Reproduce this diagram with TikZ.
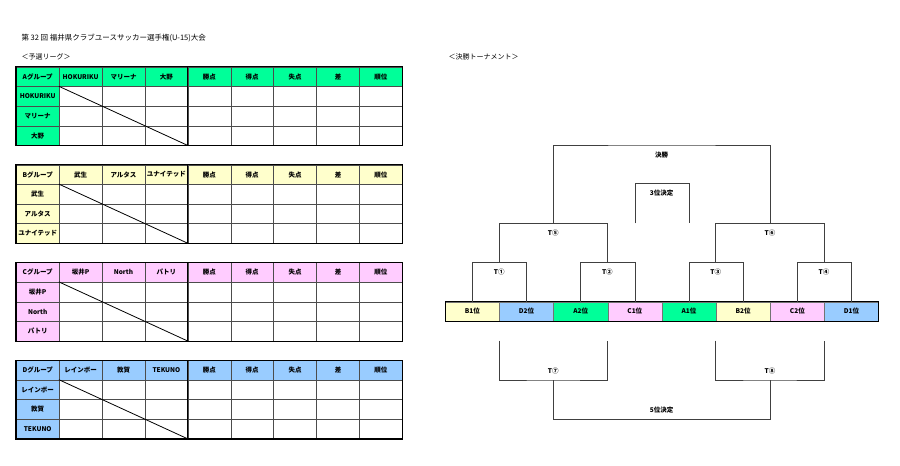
\documentclass[tikz,border=0pt]{standalone}
\usepackage{fontspec}
\setmainfont{Noto Sans CJK JP}
\definecolor{grpA}{HTML}{00FF99}
\definecolor{grpB}{HTML}{FFFFCC}
\definecolor{grpC}{HTML}{FFCCFF}
\definecolor{grpD}{HTML}{99CCFF}
\begin{document}
\begin{tikzpicture}[x=1pt,y=-1pt,
		every node/.style={font=\fontsize{7}{8}\selectfont},
		cell/.style={draw=black!70, line width=0.5pt, minimum width=42.9pt, minimum height=19.6pt, inner sep=0pt, anchor=north west, font=\bfseries\fontsize{6.5}{7}\selectfont},
		frame/.style={line width=1.2pt},
		place/.style={draw=black!55, line width=0.5pt, minimum width=54.17pt, minimum height=19pt, inner sep=0pt, anchor=north west, font=\bfseries\fontsize{6.5}{7}\selectfont},
		line/.style={draw=black!75, line width=0.7pt},
		tag/.style={font=\bfseries\fontsize{6.5}{7}\selectfont}
	]
	\useasboundingbox (0,0) rectangle (900,466);
	\node[anchor=west, font=\fontsize{7.5}{8}\selectfont] (title) at (18,38) {第 32 回 福井県クラブユースサッカー選手権(U-15)大会};
	\node[anchor=west] (league) at (18,56.7) {＜予選リーグ＞};
	\node[anchor=west] (cup) at (445,56.7) {＜決勝トーナメント＞};
	% group tables
	\foreach \g/\ty/\clubA/\clubB/\clubC in {A/66.7/HOKURIKU/マリーナ/大野, B/164.5/武生/アルタス/ユナイテッド, C/262.3/坂井P/North/パトリ, D/360.1/レインボー/敦賀/TEKUNO}{
		\foreach \txt [count=\i from 0] in {{\g}グループ,\clubA,\clubB,\clubC,勝点,得点,失点,差,順位}
			\node[cell, fill=grp\g] (\g-0-\i) at ({16+42.9*\i},\ty) {\txt};
		\foreach \club [count=\r] in {\clubA,\clubB,\clubC}{
			\node[cell, fill=grp\g] (\g-\r-0) at (16,{\ty+19.6*\r}) {\club};
			\foreach \i in {1,...,8}
				\node[cell] (\g-\r-\i) at ({16+42.9*\i},{\ty+19.6*\r}) {};
		}
		\draw[frame] (\g-0-0.north west) rectangle (\g-3-8.south east);
		\draw[frame] (\g-0-4.north west) -- (\g-3-4.south west);
		\draw[line width=0.8pt] (\g-1-1.north west) -- (\g-3-3.south east);
	}
	% tournament
	\foreach \txt/\g [count=\i] in {B1位/B, D2位/D, A2位/A, C1位/C, A1位/A, B2位/B, C2位/C, D1位/D}
		\node[place, fill=grp\g] (p\i) at ({445+54.17*(\i-1)},301.7) {\txt};
	\draw[line width=1pt] (p1.north west) rectangle (p8.south east);
	\coordinate (t1) at (499.2,262.3);
	\coordinate (t2) at (607.4,262.3);
	\coordinate (t3) at (715.7,262.3);
	\coordinate (t4) at (824,262.3);
	\coordinate (t5) at (553.3,223.3);
	\coordinate (t6) at (770,223.3);
	\coordinate (win) at (661.7,145);
	\coordinate (third) at (661.7,183.3);
	\coordinate (q1) at (499.2,340.7);
	\coordinate (q2) at (607.4,340.7);
	\coordinate (q3) at (715.7,340.7);
	\coordinate (q4) at (824,340.7);
	\coordinate (t7) at (553.3,380);
	\coordinate (t8) at (770,380);
	\coordinate (fifth) at (661.7,419.3);
	\draw[line] (p1.north) |- (t1) -| (p2.north);
	\draw[line] (p3.north) |- (t2) -| (p4.north);
	\draw[line] (p5.north) |- (t3) -| (p6.north);
	\draw[line] (p7.north) |- (t4) -| (p8.north);
	\draw[line] (t1) |- (t5) -| (t2);
	\draw[line] (t3) |- (t6) -| (t4);
	\draw[line] (t5) |- (win) -| (t6);
	\draw[line] (p4.north |- t5) |- (third) -| (p5.north |- t5);
	\draw[line] (q1) |- (t7) -| (q2);
	\draw[line] (q3) |- (t8) -| (q4);
	\draw[line] (t7) |- (fifth) -| (t8);
	\foreach \m/\txt in {t1/T①, t2/T②, t3/T③, t4/T④, t5/T⑤, t6/T⑥, win/決勝, third/3位決定}
		\node[tag] (m\m) at ([yshift=-10pt]\m) {\txt};
	\foreach \m/\txt in {t7/T⑦, t8/T⑧, fifth/5位決定}
		\node[tag] (m\m) at ([yshift=9.3pt]\m) {\txt};
\end{tikzpicture}
\end{document}
